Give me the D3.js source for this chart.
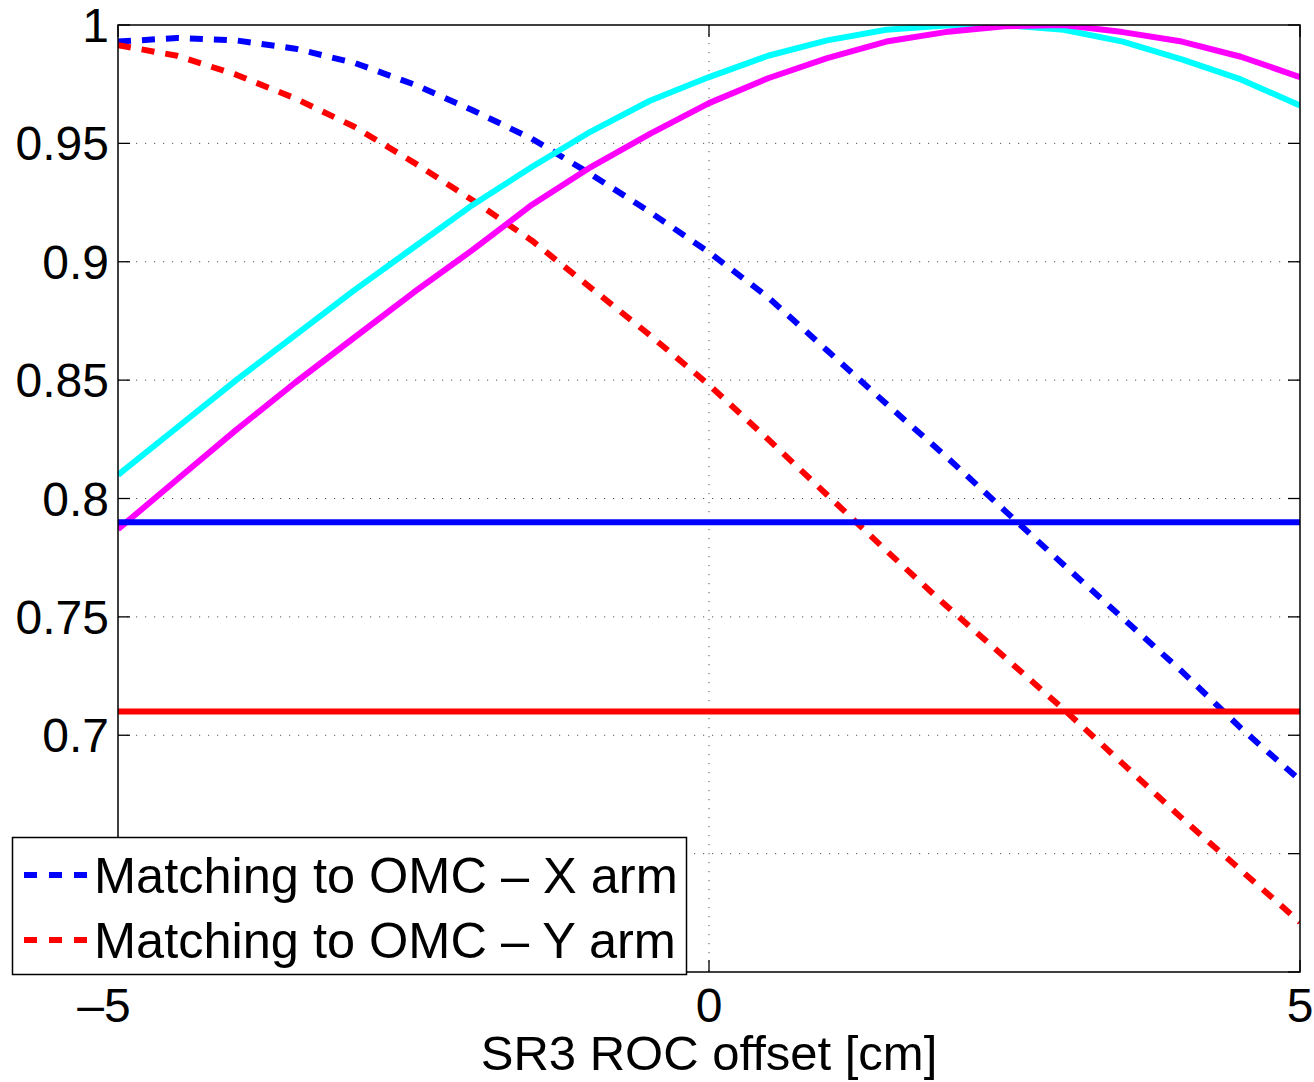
<!DOCTYPE html>
<html>
<head>
<meta charset="utf-8">
<script src="https://cdn.jsdelivr.net/npm/d3@7"></script>
<style>
  html, body { margin: 0; padding: 0; background: #fff; }
  svg { display: block; }
  text { font-family: "Liberation Sans", Arial, Helvetica, sans-serif; fill: #000; }
</style>
</head>
<body>
<svg id="chart" width="1314" height="1082"></svg>
<script>
// ---- data ----
const offsets = [-5, -4.5, -4, -3.5, -3, -2.5, -2, -1.5, -1, -0.5, 0, 0.5, 1, 1.5, 2, 2.5, 3, 3.5, 4, 4.5, 5];
const matchX = [0.993, 0.9945, 0.9935, 0.990, 0.984, 0.975, 0.964, 0.952, 0.937, 0.921, 0.904, 0.885, 0.8625, 0.840, 0.818, 0.795, 0.772, 0.7495, 0.727, 0.703, 0.681];
const matchY = [0.9915, 0.987, 0.979, 0.969, 0.957, 0.942, 0.926, 0.909, 0.889, 0.869, 0.848, 0.825, 0.8015, 0.778, 0.755, 0.733, 0.711, 0.688, 0.665, 0.643, 0.621];
const cyanSeries = [0.810, 0.830, 0.850, 0.869, 0.888, 0.906, 0.924, 0.940, 0.955, 0.968, 0.978, 0.987, 0.9935, 0.998, 0.9998, 1.0, 0.998, 0.993, 0.9855, 0.977, 0.966];
const magentaSeries = [0.787, 0.808, 0.829, 0.849, 0.868, 0.887, 0.905, 0.924, 0.940, 0.954, 0.967, 0.9775, 0.986, 0.993, 0.997, 0.9995, 1.0, 0.997, 0.993, 0.9866, 0.978];
const levelX = 0.79;
const levelY = 0.71;
const xTicks = [-5, 0, 5];
const xTickLabels = ["\u20135", "0", "5"];
const yTicks = [0.6, 0.65, 0.7, 0.75, 0.8, 0.85, 0.9, 0.95, 1];
// the 0.6 and 0.65 labels sit hidden behind the legend in the reference
const yTickLabels = ["", "", "0.7", "0.75", "0.8", "0.85", "0.9", "0.95", "1"];
const legendLabels = ["Matching to OMC \u2013 X arm", "Matching to OMC \u2013 Y arm"];
const xLabel = "SR3 ROC offset [cm]";

// ---- layout ----
const L = 118, R = 1300, T = 25, B = 972;
const svg = d3.select("#chart");
const x = d3.scaleLinear().domain([-5, 5]).range([L, R]);
const y = d3.scaleLinear().domain([0.6, 1]).range([B, T]);

svg.append("defs").append("clipPath").attr("id", "plotclip")
  .append("rect").attr("x", L).attr("y", T).attr("width", R - L).attr("height", B - T);

// grid
const grid = svg.append("g");
grid.selectAll("line.gy").data(yTicks.filter(v => v > 0.6 && v < 1)).join("line")
  .attr("x1", L).attr("x2", R).attr("y1", d => y(d)).attr("y2", d => y(d))
  .attr("stroke", "#555").attr("stroke-width", 1).attr("stroke-dasharray", "1.2,7.8");
grid.selectAll("line.gx").data(xTicks.filter(v => v > -5 && v < 5)).join("line")
  .attr("y1", T).attr("y2", B).attr("x1", d => x(d)).attr("x2", d => x(d))
  .attr("stroke", "#555").attr("stroke-width", 1).attr("stroke-dasharray", "1.2,7.8");

// lines
const plot = svg.append("g").attr("clip-path", "url(#plotclip)");
const line = d3.line().x((d, i) => x(offsets[i])).y(d => y(d)).curve(d3.curveLinear);
const LW = 6;
const series = [
  { v: matchX, c: "#0000ff", dash: "13,11" },
  { v: matchY, c: "#ff0000", dash: "13,11" },
  { v: cyanSeries, c: "#00ffff", dash: null },
  { v: magentaSeries, c: "#ff00ff", dash: null },
];
series.forEach(s => {
  plot.append("path").datum(s.v).attr("d", line)
    .attr("fill", "none").attr("stroke", s.c).attr("stroke-width", LW)
    .attr("stroke-dasharray", s.dash).attr("stroke-linejoin", "round");
});
[[levelX, "#0000ff"], [levelY, "#ff0000"]].forEach(([lv, c]) => {
  plot.append("line").attr("x1", x(-5)).attr("x2", x(5)).attr("y1", y(lv)).attr("y2", y(lv))
    .attr("stroke", c).attr("stroke-width", LW);
});

// axes box
const ax = svg.append("g");
ax.append("rect").attr("x", L).attr("y", T).attr("width", R - L).attr("height", B - T)
  .attr("fill", "none").attr("stroke", "#000").attr("stroke-width", 1.5);

// ticks (inward, all four sides)
const TL = 12;
yTicks.forEach(v => {
  ax.append("line").attr("x1", L).attr("x2", L + TL).attr("y1", y(v)).attr("y2", y(v)).attr("stroke", "#000").attr("stroke-width", 1.3);
  ax.append("line").attr("x1", R).attr("x2", R - TL).attr("y1", y(v)).attr("y2", y(v)).attr("stroke", "#000").attr("stroke-width", 1.3);
});
xTicks.forEach(v => {
  ax.append("line").attr("x1", x(v)).attr("x2", x(v)).attr("y1", B).attr("y2", B - TL).attr("stroke", "#000").attr("stroke-width", 1.3);
  ax.append("line").attr("x1", x(v)).attr("x2", x(v)).attr("y1", T).attr("y2", T + TL).attr("stroke", "#000").attr("stroke-width", 1.3);
});

// tick labels
ax.selectAll("text.yl").data(yTicks.filter((d, i) => yTickLabels[i] !== "")).join("text")
  .attr("x", L - 9).attr("y", d => y(d) + 17)
  .attr("text-anchor", "end").attr("font-size", 48)
  .text(d => yTickLabels[yTicks.indexOf(d)]);
ax.selectAll("text.xl").data(xTicks).join("text")
  .attr("x", d => x(d)).attr("dx", d => d < 0 ? -14 : 0).attr("y", 1022)
  .attr("text-anchor", "middle").attr("font-size", 48)
  .text((d, i) => xTickLabels[i]);

svg.append("text").attr("x", (L + R) / 2).attr("y", 1070)
  .attr("text-anchor", "middle").attr("font-size", 49).text(xLabel);

// legend
const lg = svg.append("g");
lg.append("rect").attr("x", 12.5).attr("y", 837.5).attr("width", 674).attr("height", 137)
  .attr("fill", "#fff").attr("stroke", "#000").attr("stroke-width", 1.5);
const legendColors = ["#0000ff", "#ff0000"];
legendLabels.forEach((lab, i) => {
  const cy = 875 + i * 65;
  lg.append("line").attr("x1", 24).attr("x2", 87).attr("y1", cy).attr("y2", cy)
    .attr("stroke", legendColors[i]).attr("stroke-width", LW).attr("stroke-dasharray", "13,12");
  lg.append("text").attr("x", 94).attr("y", cy + 18).attr("font-size", 50.5).text(lab);
});
</script>
</body>
</html>
